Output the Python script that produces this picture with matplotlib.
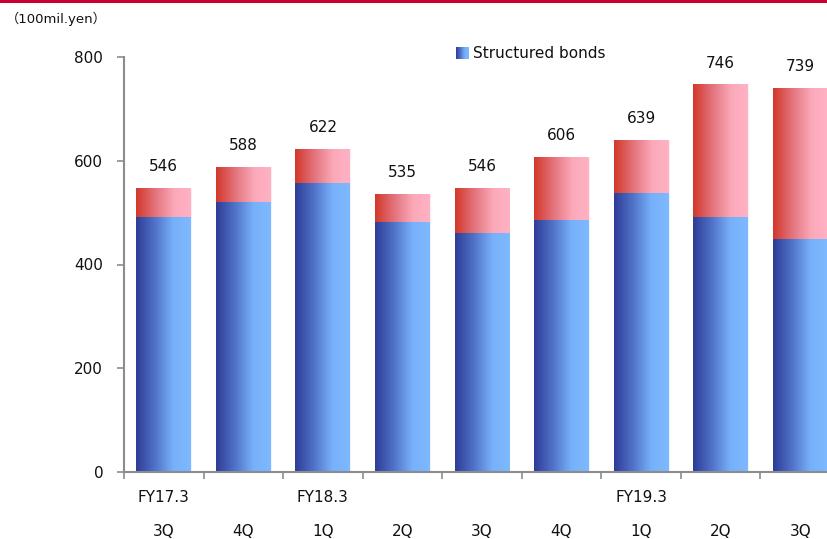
import numpy as np
import matplotlib.pyplot as plt
from matplotlib.colors import LinearSegmentedColormap
from matplotlib.transforms import blended_transform_factory

plt.rcParams['font.family'] = ['DejaVu Sans', 'Noto Sans CJK JP']

# Quarterly balance (100 mil. yen)
quarters = ['3Q', '4Q', '1Q', '2Q', '3Q', '4Q', '1Q', '2Q', '3Q']
fiscal_years = {0: 'FY17.3', 2: 'FY18.3', 6: 'FY19.3'}
totals = np.array([546, 588, 622, 535, 546, 606, 639, 746, 739])
structured = np.array([491, 521, 557, 482, 460, 485, 538, 491, 449])
other = totals - structured

blue_cmap = LinearSegmentedColormap.from_list(
    'blue_bar', [(0, '#2E3C96'), (0.35, '#5073C9'), (0.68, '#77B0FA'), (1, '#7EB9FF')])
red_cmap = LinearSegmentedColormap.from_list(
    'red_bar', [(0, '#D3382A'), (0.35, '#E2737C'), (0.7, '#FBA9B9'), (1, '#FFB2C4')])
grad = np.linspace(0, 1, 256).reshape(1, -1)

fig = plt.figure(figsize=(8.27, 5.39), dpi=100)

# red rule across the top
fig.add_artist(plt.Rectangle((0, 1 - 3 / 539), 1, 3 / 539, transform=fig.transFigure,
                             color='#C8002F', lw=0))

ax = fig.add_axes([124 / 827, 67 / 539, 716 / 827, 415 / 539])
x = np.arange(len(quarters))
width = 0.69

bars_blue = ax.bar(x, structured, width, color='none', edgecolor='#EAF2FF', lw=0.6)
bars_red = ax.bar(x, other, width, bottom=structured, color='none', edgecolor='#FFE8EC', lw=0.6)

# fill every bar with a horizontal gradient
for bars, cmap in ((bars_blue, blue_cmap), (bars_red, red_cmap)):
    for b in bars:
        x0, y0 = b.get_x(), b.get_y()
        ax.imshow(grad, cmap=cmap, aspect='auto', zorder=1.5,
                  extent=[x0, x0 + b.get_width(), y0, y0 + b.get_height()])

for xi, t in zip(x, totals):
    ax.annotate(f'{t}', (xi, t), xytext=(0, 12.5), textcoords='offset points',
                ha='center', va='baseline', fontsize=11, color='#111111')

ax.set_xlim(-0.5, len(quarters) - 0.5)
ax.set_ylim(0, 800)
ax.set_yticks([0, 200, 400, 600, 800])
ax.tick_params(axis='y', length=5, width=1.2, color='#8C8C8C', pad=10, labelsize=11,
               labelcolor='#111111')
ax.set_xticks(np.arange(-0.5, len(quarters)), minor=True)
ax.set_xticks([])
ax.tick_params(axis='x', which='minor', length=5, width=1.2, color='#8C8C8C')

for side in ('top', 'right'):
    ax.spines[side].set_visible(False)
for side in ('left', 'bottom'):
    ax.spines[side].set_color('#8C8C8C')
    ax.spines[side].set_linewidth(1.5)

trans = blended_transform_factory(ax.transData, fig.transFigure)
for xi, q in zip(x, quarters):
    ax.text(xi, 1 - 532 / 539, q, transform=trans, ha='center', va='center',
            fontsize=11, color='#111111')
for xi, fy in fiscal_years.items():
    ax.text(xi, 1 - 497 / 539, fy, transform=trans, ha='center', va='center',
            fontsize=11, color='#111111')

fig.text(6 / 827, 1 - 19 / 539, '（100mil.yen）', fontsize=9.5, va='center', ha='left',
         color='#111111')

# legend swatch
sw = fig.add_axes([456 / 827, 1 - 59 / 539, 12 / 827, 12 / 539])
sw.imshow(grad, cmap=blue_cmap, aspect='auto')
sw.axis('off')
fig.text(473 / 827, 1 - 53 / 539, 'Structured bonds', fontsize=11, va='center', ha='left',
         color='#111111')

fig.savefig('out.png', dpi=100)
